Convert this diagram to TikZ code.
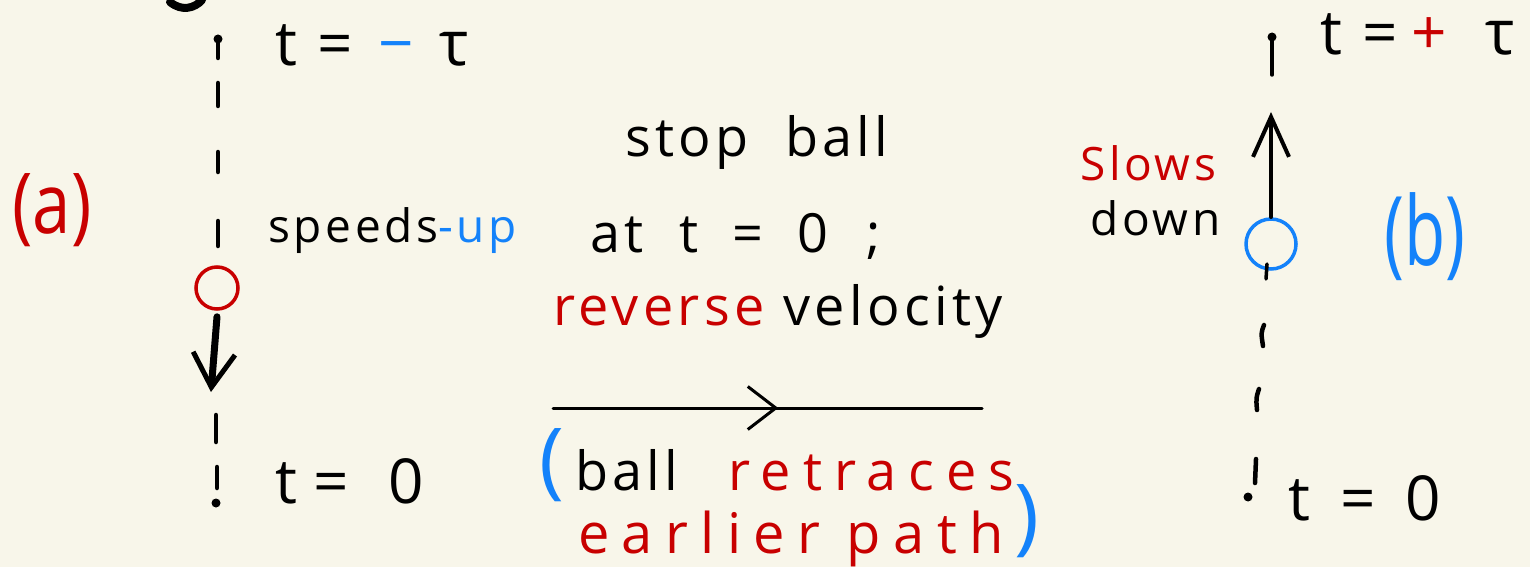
\documentclass[tikz,border=0pt]{standalone}
\usepackage{fontspec}
\setmainfont{Open Sans}
\newfontfamily\hand[LetterSpace=8]{Open Sans}
\newfontfamily\handw[LetterSpace=22]{Open Sans}
\usetikzlibrary{arrows.meta,decorations.markings}
\definecolor{bg}{RGB}{248,246,234}
\definecolor{inkred}{RGB}{200,0,0}
\definecolor{inkblue}{RGB}{20,130,250}
\begin{document}
\begin{tikzpicture}[x=1pt,y=-1pt,
  ink/.style={line width=4.5pt,line cap=round,black},
  txt/.style={inner sep=0pt,anchor=base west,font=\hand\fontsize{54}{60}\selectfont},
  eqn/.style={inner sep=0pt,anchor=base west,font=\hand\fontsize{62}{66}\selectfont},
  wide/.style={inner sep=0pt,anchor=base west,font=\handw\fontsize{56}{60}\selectfont},
  big/.style={inner sep=0pt,font=\fontsize{#1}{#1}\selectfont},
  ball/.style={circle,draw,line width=3.5pt,minimum size=#1,inner sep=0pt}]
\fill[bg] (0,0) rectangle (1530,567);
\useasboundingbox (0,0) rectangle (1530,567);
% fragment at top
\draw[line width=8pt,line cap=round] (170,2) .. controls (182,12) and (195,8) .. (202,0);
% ---- column (a)
\fill (218,39) circle (4.5);
\draw[ink] (218,40) -- (218,58);
\draw[ink] (218,83) -- (218,106);
\draw[ink] (218,152) -- (218,172);
\draw[ink] (218,221) -- (218,246);
\node[ball=42pt,draw=inkred] (ra) at (217,288) {};
\coordinate (atip) at (211,392);
\draw[line width=7pt,line cap=round,-{Straight Barb[length=34pt,width=42pt,line width=5pt]}] (ra.south) ++(0,6) -- (atip);
\draw[ink] (216,415) -- (216,442);
\draw[ink] (217,467) -- (217,488);
\fill (216,503) circle (4.5);
\node[eqn] (tma) at (275,66) {t\hspace{20pt}=\hspace{26pt}\textcolor{inkblue}{−}\hspace{26pt}τ};
\node[big=84,text=inkred] (alab) at (52,210) {\scalebox{0.82}[1]{(a)}};
\node[txt,font=\hand\fontsize{46}{50}\selectfont] (spd) at (268,242) {speeds\textcolor{inkblue}{-up}};
\node[eqn] (t0a) at (275,503) {t\hspace{16pt}=\hspace{40pt}0};
% ---- middle
\node[txt] (stop) at (625,157) {stop\hspace{18pt} ball};
\node[txt] (at0) at (590,252) {at\hspace{36pt}t\hspace{34pt}=\hspace{34pt}0\hspace{38pt};};
\node[txt] (rev) at (553,325) {\textcolor{inkred}{reverse} velocity};
\coordinate (ml) at (553,408);
\coordinate (mr) at (982,408);
\draw[line width=3pt,line cap=round,
  postaction={decorate,decoration={markings,mark=at position 0.525 with {\arrow[line width=3pt]{Straight Barb[length=28pt,width=43pt]}}}}] (ml) -- (mr);
\node[big=84,text=inkblue] (lp) at (552,465) {(};
\node[txt] (bl) at (575,490) {ball};
\node[wide,text=inkred,font=\handw\fontsize{54}{60}\selectfont] (rt) at (728,490) {retraces};
\node[wide,text=inkred] (ep) at (578,553) {earlier path};
\node[big=84,text=inkblue] (rp) at (1027,521) {)};
% ---- column (b)
\fill (1272,37) circle (4.5);
\draw[ink,line width=3.5pt] (1272,38) -- (1272,75);
\node[ball=50pt,draw=inkblue] (rb) at (1271,244) {};
\coordinate (btip) at (1271,112);
\draw[line width=3.5pt,line cap=round,-{Straight Barb[length=40pt,width=36pt,line width=4pt]}] (rb.north) -- (btip);
\draw[ink,line width=3.5pt] (1267,264) -- (1266,279);
\draw[ink] (1264,325) .. controls (1261,333) .. (1263,346);
\draw[ink] (1259,389) .. controls (1256,398) .. (1257,410);
\draw[ink] (1256,459) -- (1255,483);
\fill (1248,497) circle (4.5);
\node[eqn] (tpb) at (1320,55) {t\hspace{20pt}=\hspace{14pt}\textcolor{inkred}{+}\hspace{38pt}τ};
\node[txt,text=inkred,font=\hand\fontsize{46}{50}\selectfont] (slw) at (1080,180) {Slows};
\node[txt,font=\hand\fontsize{46}{50}\selectfont] (dwn) at (1090,235) {down};
\node[big=96,text=inkblue] (blab) at (1425,237) {\scalebox{0.7}[1]{(b)}};
\node[eqn] (t0b) at (1288,520) {t\hspace{30pt}=\hspace{30pt}0};
\end{tikzpicture}
\end{document}
